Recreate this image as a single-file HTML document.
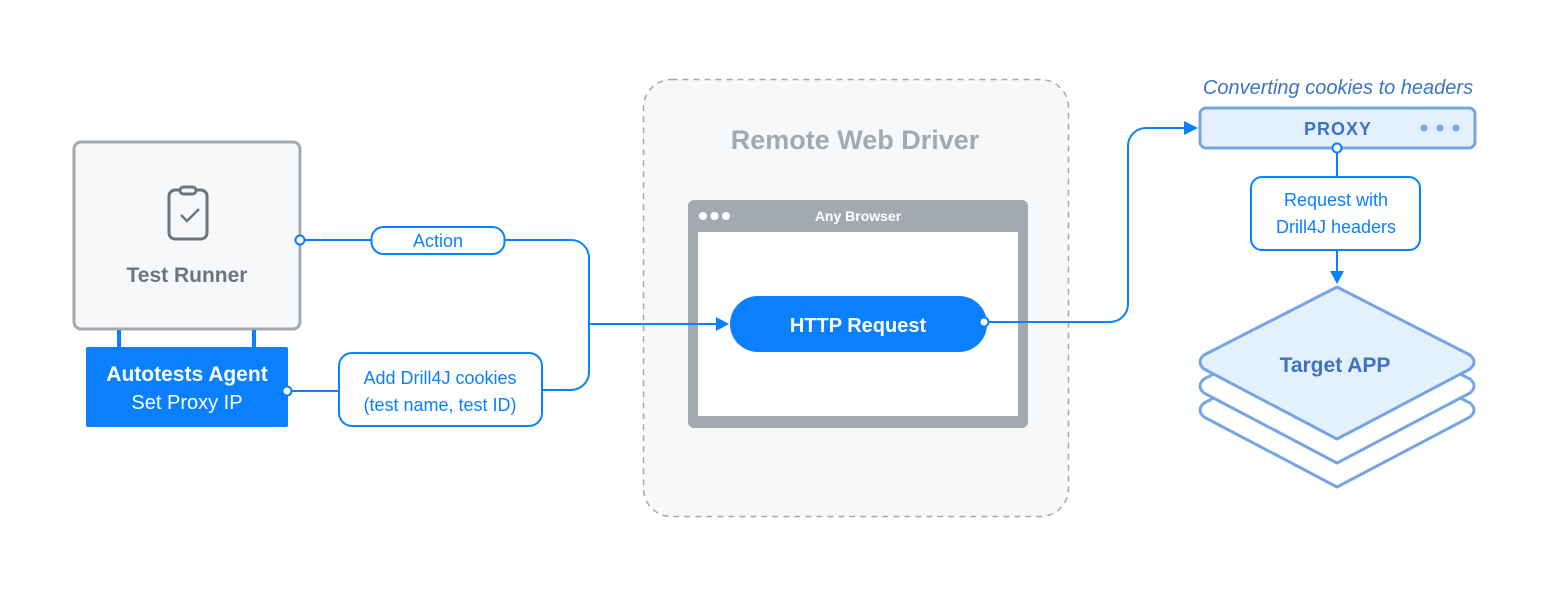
<!DOCTYPE html>
<html><head><meta charset="utf-8"><style>
html,body{margin:0;padding:0;background:#fff;}
svg{display:block;}
text{font-family:"Liberation Sans","DejaVu Sans",sans-serif;}
</style></head><body>
<svg width="1560" height="590" viewBox="0 0 1560 590" xmlns="http://www.w3.org/2000/svg">
<rect width="1560" height="590" fill="#fff"/>
<rect x="643.5" y="79.5" width="425" height="437" rx="28" fill="#f7f8fa" stroke="#a3a9b0" stroke-width="1.5" stroke-dasharray="6,5"/>
<text x="855" y="149" text-anchor="middle" font-size="27" font-weight="bold" fill="#a3a9b0">Remote Web Driver</text>
<rect x="688" y="200" width="340" height="228" rx="6" fill="#a3a9b0"/>
<rect x="698" y="232" width="320" height="184" fill="#fff"/>
<circle cx="703" cy="216" r="4" fill="#fff"/><circle cx="714.5" cy="216" r="4" fill="#fff"/><circle cx="726" cy="216" r="4" fill="#fff"/>
<text x="858" y="221" text-anchor="middle" font-size="14" font-weight="bold" fill="#fff">Any Browser</text>
<rect x="730" y="296" width="257" height="56" rx="28" fill="#0a80ff"/>
<text x="858" y="332" text-anchor="middle" font-size="20" font-weight="bold" fill="#fff">HTTP Request</text>

<rect x="74" y="142" width="226" height="187" rx="7" fill="#f7f8fa" stroke="#a3a9b0" stroke-width="3"/>
<rect x="169" y="190" width="38" height="49" rx="6" fill="none" stroke="#6c7480" stroke-width="3"/>
<rect x="180" y="187" width="16" height="7" rx="3.5" fill="#f7f8fa" stroke="#6c7480" stroke-width="3"/>
<path d="M181 215 l6 6 l12 -12" fill="none" stroke="#6c7480" stroke-width="2.5"/>
<text x="187" y="282" text-anchor="middle" font-size="21" font-weight="bold" fill="#6c7480">Test Runner</text>
<rect x="117" y="330" width="4" height="18" fill="#0a80ff"/>
<rect x="252" y="330" width="4" height="18" fill="#0a80ff"/>
<rect x="86" y="347" width="202" height="80" rx="2" fill="#0a80ff"/>
<text x="187" y="381" text-anchor="middle" font-size="21" font-weight="bold" fill="#fff">Autotests Agent</text>
<text x="187" y="409" text-anchor="middle" font-size="20" fill="#fff">Set Proxy IP</text>

<g fill="none" stroke="#0a80ff" stroke-width="2">
<path d="M300 240 H371"/>
<path d="M505 240 H571 a18 18 0 0 1 18 18 V372 a18 18 0 0 1 -18 18 H542"/>
<path d="M288 391 H339"/>
<path d="M589 324 H716"/>
<path d="M987 322 H1110 a18 18 0 0 0 18 -18 V146 a18 18 0 0 1 18 -18 H1186"/>
<path d="M1337 148 V177"/>
<path d="M1337 250 V272"/>
</g>
<path d="M716 317 L729 324 L716 331 Z" fill="#0a80ff"/>
<path d="M1184 121 L1198 128 L1184 135 Z" fill="#0a80ff"/>
<path d="M1330 271 L1337 284 L1344 271 Z" fill="#0a80ff"/>
<rect x="371.5" y="227" width="133" height="27" rx="12" fill="#fff" stroke="#0a80ff" stroke-width="2"/>
<text x="438" y="247" text-anchor="middle" font-size="18" fill="#0a80ff">Action</text>
<rect x="339" y="353" width="203" height="73" rx="13" fill="#fff" stroke="#0a80ff" stroke-width="2"/>
<text x="440" y="384" text-anchor="middle" font-size="18" fill="#0a80ff">Add Drill4J cookies</text>
<text x="440" y="411" text-anchor="middle" font-size="18" fill="#0a80ff">(test name, test ID)</text>
<circle cx="300" cy="240" r="4.5" fill="#fff" stroke="#0a80ff" stroke-width="2"/>
<circle cx="287" cy="391" r="4.5" fill="#fff" stroke="#0a80ff" stroke-width="2"/>
<circle cx="984" cy="322" r="4.5" fill="#fff" stroke="#0a80ff" stroke-width="2"/>

<text x="1338" y="94" text-anchor="middle" font-size="20" font-style="italic" fill="#3d73c2">Converting cookies to headers</text>
<rect x="1200" y="108" width="275" height="40" rx="6" fill="#e4f1fd" stroke="#76a5e2" stroke-width="3"/>
<text x="1338" y="135" text-anchor="middle" font-size="18" font-weight="bold" fill="#3d73c2" letter-spacing="1">PROXY</text>
<circle cx="1424" cy="128" r="3.5" fill="#76a5e2"/><circle cx="1440" cy="128" r="3.5" fill="#76a5e2"/><circle cx="1456" cy="128" r="3.5" fill="#76a5e2"/>
<circle cx="1337" cy="148" r="4.5" fill="#fff" stroke="#0a80ff" stroke-width="2"/>
<rect x="1251" y="177" width="169" height="73" rx="11" fill="#fff" stroke="#0a80ff" stroke-width="2"/>
<text x="1336" y="206" text-anchor="middle" font-size="18" fill="#0a80ff">Request with</text>
<text x="1336" y="233" text-anchor="middle" font-size="18" fill="#0a80ff">Drill4J headers</text>

<g stroke="#76a5e2" stroke-width="3" stroke-linejoin="round">
<path d="M1337 335 L1470 403 Q1478 410 1470 417 L1337 487 L1204 417 Q1196 410 1204 403 Z" fill="#fff"/>
<path d="M1337 311 L1470 379 Q1478 386 1470 393 L1337 463 L1204 393 Q1196 386 1204 379 Z" fill="#fff"/>
<path d="M1337 287 L1470 355 Q1478 362 1470 369 L1337 439 L1204 369 Q1196 362 1204 355 Z" fill="#e4f1fd"/>
</g>
<text x="1335" y="372" text-anchor="middle" font-size="21" font-weight="bold" fill="#3d73c2">Target APP</text>
</svg>
</body></html>
